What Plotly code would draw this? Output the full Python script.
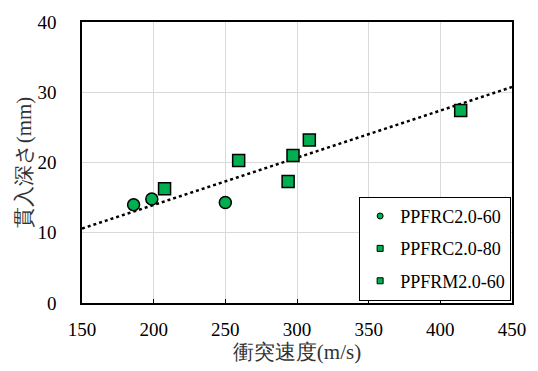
import plotly.graph_objects as go

# Data
s1_name = "PPFRC2.0-60"
s1_x = [186, 198.7, 250]
s1_y = [14.0, 14.8, 14.3]

s2_name = "PPFRC2.0-80"
s2_x = [207.6, 259.3, 297.2]
s2_y = [16.25, 20.3, 21.0]

s3_name = "PPFRM2.0-60"
s3_x = [293.8, 308.6, 414.2]
s3_y = [17.3, 23.2, 27.4]

trend_x = [150, 450]
trend_y = [10.6, 30.75]

x_ticks = [150, 200, 250, 300, 350, 400, 450]
y_ticks = [0, 10, 20, 30, 40]

x_title = "衝突速度(m/s)"
y_title = "貫入深さ(mm)"

GREEN = "#00B050"
FONT = "Times New Roman, Liberation Serif, serif"

fig = go.Figure()

fig.add_trace(go.Scatter(x=trend_x, y=trend_y, mode="lines",
                         line=dict(color="black", width=2.5, dash="dot"),
                         showlegend=False, hoverinfo="skip"))

series = [(s1_name, s1_x, s1_y, "circle"),
          (s2_name, s2_x, s2_y, "square"),
          (s3_name, s3_x, s3_y, "square")]

for i, (name, xs, ys, sym) in enumerate(series):
    fig.add_trace(go.Scatter(x=xs, y=ys, mode="markers", name=name,
                             marker=dict(symbol=sym, size=12, color=GREEN,
                                         line=dict(color="black", width=1.5)),
                             showlegend=False))
    fig.add_trace(go.Scatter(x=[None], y=[None], mode="markers", name=name,
                             legendgroup=f"g{i}",
                             marker=dict(symbol=sym, size=6, color=GREEN,
                                         line=dict(color="black", width=1))))

fig.update_layout(
    width=538, height=371,
    margin=dict(l=82, r=18, t=15, b=68),
    paper_bgcolor="white", plot_bgcolor="white",
    font=dict(family=FONT, size=19, color="black"),
    showlegend=True,
    legend=dict(x=0.998, y=0.378, xanchor="right", yanchor="top",
                bgcolor="white", bordercolor="black", borderwidth=1,
                font=dict(family=FONT, size=18, color="black"),
                tracegroupgap=6, itemwidth=30),
    xaxis=dict(range=[150, 450], tickvals=x_ticks, showgrid=True,
               gridcolor="#d9d9d9", gridwidth=1, zeroline=False,
               showline=True, linecolor="black", linewidth=1.5, mirror=True,
               ticks="inside", ticklen=4, tickcolor="black",
               ticklabelstandoff=8,
               title=dict(text=x_title, standoff=3,
                          font=dict(family=FONT, size=21, color="#333"))),
    yaxis=dict(range=[0, 40], tickvals=y_ticks, showgrid=True,
               gridcolor="#d9d9d9", gridwidth=1, zeroline=False,
               showline=True, linecolor="black", linewidth=1.5, mirror=True,
               ticks="", ticklabelstandoff=20,
               title=dict(text=y_title, standoff=0,
                          font=dict(family=FONT, size=21, color="#333"))),
)

fig.write_html("out.html")
